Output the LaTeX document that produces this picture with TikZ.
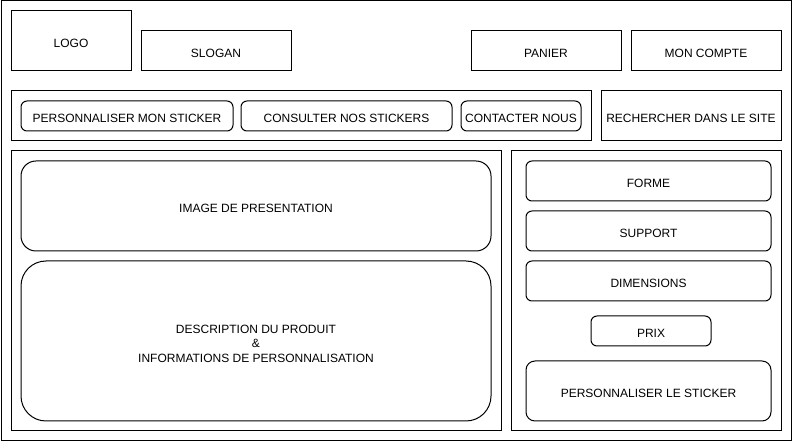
\documentclass[tikz,border=0pt]{standalone}
\usepackage{fontspec}
\setmainfont{Liberation Sans}
\begin{document}
\begin{tikzpicture}[x=1pt,y=-1pt,
  every node/.style={font=\fontsize{12}{14.5}\selectfont, inner sep=0pt, outer sep=0pt, align=center},
  txt/.style={text height=12.75pt, text depth=0pt},
  box/.style={draw=black, line width=1pt, txt},
  rbox/.style={draw=black, line width=1pt, rounded corners=6pt, txt},
  frame/.style={draw=black, line width=1pt}]
\useasboundingbox (0,0) rectangle (793,443);
% frames
\node[frame, minimum width=790pt, minimum height=440pt] (outer) at (396,221) {};
\node[frame, minimum width=580pt, minimum height=50pt] (nav) at (301,116) {};
\node[frame, minimum width=490pt, minimum height=280pt] (main) at (256,291) {};
\node[frame, minimum width=270pt, minimum height=280pt] (side) at (646,291) {};
% header
\node[box, minimum width=120pt, minimum height=60pt] (logo) at (71,41) {LOGO};
\node[box, minimum width=150pt, minimum height=40pt] (slogan) at (216,51) {SLOGAN};
\node[box, minimum width=150pt, minimum height=40pt] (panier) at (546,51) {PANIER};
\node[box, minimum width=150pt, minimum height=40pt] (compte) at (706,51) {MON COMPTE};
% navigation
\node[rbox, minimum width=212pt, minimum height=30pt] (perso) at (127,116) {PERSONNALISER MON STICKER};
\node[rbox, minimum width=211pt, minimum height=30pt] (consult) at (346.5,116) {CONSULTER NOS STICKERS};
\node[rbox, minimum width=120pt, minimum height=30pt] (contact) at (521,116) {CONTACTER NOUS};
\node[box, minimum width=180pt, minimum height=50pt] (search) at (691,116) {RECHERCHER DANS LE SITE};
% main
\node[draw=black, line width=1pt, rounded corners=15pt, minimum width=470pt, minimum height=90pt, txt] (image) at (256,206) {IMAGE DE PRESENTATION};
\node[draw=black, line width=1pt, rounded corners=25pt, minimum width=470pt, minimum height=160pt] (desc) at (256,341) {};
\node (desctext) at (256,343.5) {DESCRIPTION DU PRODUIT\\\&\\INFORMATIONS DE PERSONNALISATION};
% side
\node[rbox, minimum width=245pt, minimum height=40pt] (forme) at (648.5,181) {FORME};
\node[rbox, minimum width=245pt, minimum height=40pt] (support) at (648.5,231) {SUPPORT};
\node[rbox, minimum width=245pt, minimum height=40pt] (dim) at (648.5,281) {DIMENSIONS};
\node[rbox, minimum width=120pt, minimum height=30pt] (prix) at (651,331) {PRIX};
\node[draw=black, line width=1pt, rounded corners=9pt, minimum width=245pt, minimum height=60pt, txt] (persost) at (648.5,391) {PERSONNALISER LE STICKER};
\end{tikzpicture}
\end{document}
